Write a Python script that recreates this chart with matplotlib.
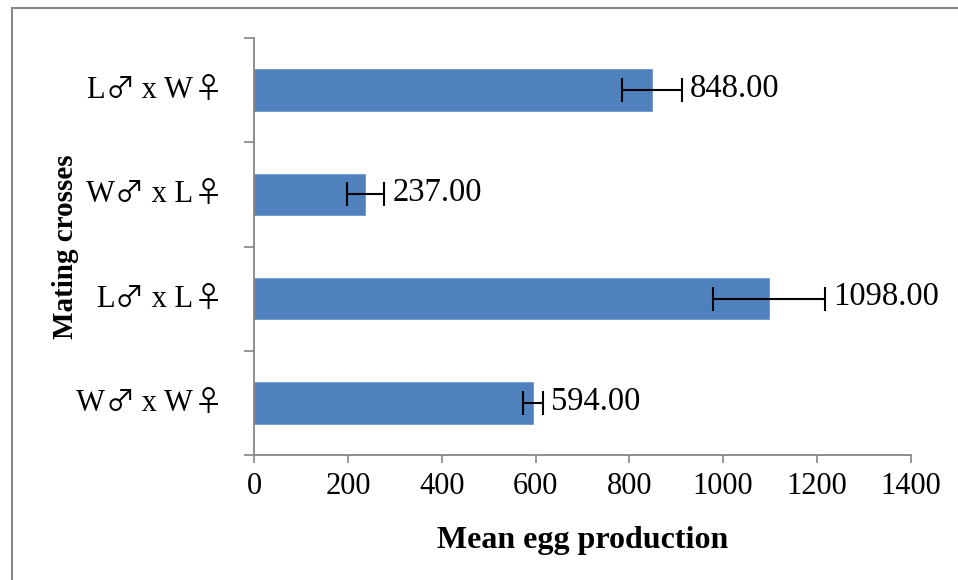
import numpy as np
import matplotlib.pyplot as plt
from matplotlib.patches import Rectangle
from matplotlib.offsetbox import TextArea, HPacker, AnnotationBbox

# data (bottom to top)
crosses = ["W\u2642 x W\u2640", "L\u2642 x L\u2640", "W\u2642 x L\u2640", "L\u2642 x W\u2640"]
mean_eggs = [594, 1098, 237, 848]
errors = [21, 120, 40, 64]

serif = ["Liberation Serif", "DejaVu Serif"]
plt.rcParams['font.family'] = serif

fig = plt.figure(figsize=(9.58, 5.8), dpi=100)
ax = fig.add_axes([0.2655, 0.2155, 0.685, 0.719])

ypos = np.arange(len(crosses))
ax.barh(ypos, mean_eggs, height=0.4, color="#4F81BD", edgecolor="#6D97CB", linewidth=0.6,
        xerr=errors, error_kw=dict(ecolor="black", elinewidth=1.5, capsize=8.5, capthick=1.5))

for y, v, e in zip(ypos, mean_eggs, errors):
    ax.annotate(f"{v:.2f}", xy=(v + e, y), xytext=(6, 1), textcoords="offset points",
                ha="left", va="center", fontsize=23.5, family=serif)

ax.set_xlim(0, 1400)
ax.set_ylim(-0.5, len(crosses) - 0.5)
ax.set_xticks(np.arange(0, 1401, 200))
ax.set_yticks(ypos)
ax.set_yticklabels([])
ax.set_yticks(np.arange(-0.5, len(crosses), 1), minor=True)
ax.tick_params(axis="y", which="major", length=0)
ax.tick_params(axis="y", which="minor", length=7, width=1.2, color="#868686", direction="out")
ax.tick_params(axis="x", length=6, width=1.2, color="#868686", labelsize=22, pad=6)

# category labels: letters in serif, sex symbols from a font with thin-line glyphs
letter_props = dict(family="Liberation Serif", fontsize=22, color="black")
symbol_props = dict(family="Noto Sans CJK JP", fontsize=21, color="black")
for y, lab in zip(ypos, crosses):
    parts = []
    buf = ""
    for ch in lab:
        if ch in "\u2642\u2640":
            if buf:
                parts.append(TextArea(buf, textprops=letter_props))
                buf = ""
            parts.append(TextArea(ch, textprops=symbol_props))
        else:
            buf += ch
    if buf:
        parts.append(TextArea(buf, textprops=letter_props))
    box = HPacker(children=parts, align="baseline", pad=0, sep=0)
    ab = AnnotationBbox(box, xy=(0, y), xycoords=("axes fraction", "data"),
                        xybox=(-23, 0), boxcoords="offset points",
                        box_alignment=(1, 0.5), frameon=False, pad=0,
                        annotation_clip=False)
    ax.add_artist(ab)

for s in ["top", "right"]:
    ax.spines[s].set_visible(False)
for s in ["left", "bottom"]:
    ax.spines[s].set_color("#868686")
    ax.spines[s].set_linewidth(1.3)

ax.set_xlabel("Mean egg production", fontsize=23, fontweight="bold", labelpad=18)
ax.set_ylabel("Mating crosses", fontsize=21, fontweight="bold")
ax.yaxis.set_label_coords(-(254.3 - 79) / 656, 0.5)

# outer chart frame (clipped at right and bottom)
fig.patches.append(Rectangle((12 / 958, -0.05), 1.1, 1 - 8 / 580 + 0.05,
                             transform=fig.transFigure, fill=False,
                             edgecolor="#888888", linewidth=1.5))

fig.savefig("out.png", dpi=100)
